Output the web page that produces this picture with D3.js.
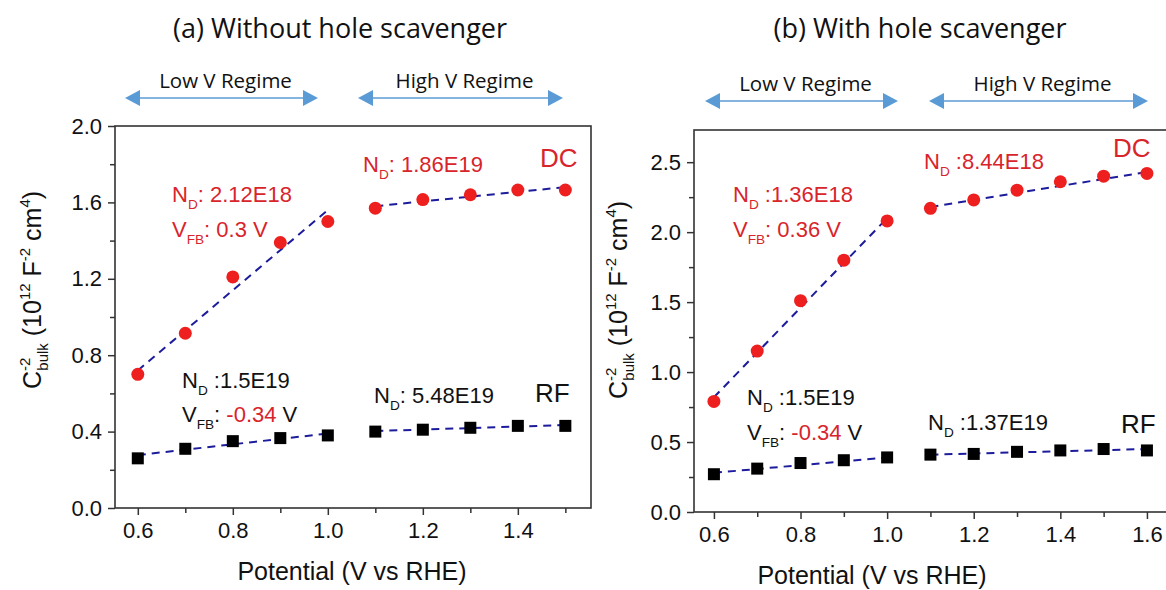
<!DOCTYPE html>
<html><head><meta charset="utf-8">
<script src="https://cdn.jsdelivr.net/npm/d3@7"></script>
<style>
html,body{margin:0;padding:0;background:#fff;}
svg{display:block;}
</style>
</head><body>
<svg id="chart" width="1166" height="590"></svg>
<script>
// ---------- DATA ----------
const titles = ["(a) Without hole scavenger", "(b) With hole scavenger"];
const regimeLabels = ["Low V Regime", "High V Regime"];
const xLabel = "Potential (V vs RHE)";

// Panel (a)
const potentialA = [0.6, 0.7, 0.8, 0.9, 1.0, 1.1, 1.2, 1.3, 1.4, 1.5];
const dcA = [0.70, 0.915, 1.21, 1.39, 1.50, 1.57, 1.615, 1.64, 1.665, 1.665];
const rfA = [0.26, 0.31, 0.35, 0.366, 0.38, 0.40, 0.41, 0.42, 0.43, 0.43];
const fitLowXA = [0.6, 1.0];
const fitHighXA = [1.1, 1.5];
const dcFitLowA = [0.72, 1.56];
const dcFitHighA = [1.58, 1.68];
const rfFitLowA = [0.277, 0.39];
const rfFitHighA = [0.403, 0.434];
const xTicksA = [0.6, 0.8, 1.0, 1.2, 1.4];
const xMinorA = [0.7, 0.9, 1.1, 1.3, 1.5];
const yTicksA = [0.0, 0.4, 0.8, 1.2, 1.6, 2.0];
const yMinorA = [0.2, 0.6, 1.0, 1.4, 1.8];

// Panel (b)
const potentialB = [0.6, 0.7, 0.8, 0.9, 1.0, 1.1, 1.2, 1.3, 1.4, 1.5, 1.6];
const dcB = [0.79, 1.15, 1.51, 1.80, 2.08, 2.17, 2.23, 2.30, 2.36, 2.40, 2.42];
const rfB = [0.27, 0.31, 0.35, 0.37, 0.39, 0.41, 0.415, 0.43, 0.44, 0.45, 0.44];
const fitLowXB = [0.6, 1.0];
const fitHighXB = [1.1, 1.6];
const dcFitLowB = [0.82, 2.10];
const dcFitHighB = [2.18, 2.43];
const rfFitLowB = [0.28, 0.39];
const rfFitHighB = [0.41, 0.45];
const xTicksB = [0.6, 0.8, 1.0, 1.2, 1.4, 1.6];
const xMinorB = [0.7, 0.9, 1.1, 1.3, 1.5];
const yTicksB = [0.0, 0.5, 1.0, 1.5, 2.0, 2.5];
const yMinorB = [0.25, 0.75, 1.25, 1.75, 2.25];

// ---------- STYLE ----------
const RED = "#ee1f1f";
const RED_TXT = "#d8242b";
const FIT = "#1c1c9c";
const ARROW = "#5b9bd5";
const AXC = "#333";
const NUMFONT = "Liberation Sans, Arial, sans-serif";
const TITLEFONT = "'Open Sans', Lato, sans-serif";

const svg = d3.select("#chart");

function drawArrow(x1, x2, y) {
  const g = svg.append("g");
  const hl = 15, hh = 8;
  g.append("line").attr("x1", x1 + hl - 2).attr("x2", x2 - hl + 2)
    .attr("y1", y).attr("y2", y).attr("stroke", ARROW).attr("stroke-width", 1.6);
  g.append("path").attr("d", `M${x1},${y} L${x1 + hl},${y - hh} L${x1 + hl},${y + hh} Z`).attr("fill", ARROW);
  g.append("path").attr("d", `M${x2},${y} L${x2 - hl},${y - hh} L${x2 - hl},${y + hh} Z`).attr("fill", ARROW);
}

function subText(x, y, parts, size, color) {
  const t = svg.append("text").attr("x", x).attr("y", y)
    .attr("font-family", NUMFONT).attr("font-size", size).attr("fill", color);
  parts.forEach(p => {
    const ts = t.append("tspan").text(p.t);
    if (p.sub) ts.attr("font-size", size * 0.62).attr("dy", size * 0.3);
    if (p.back) ts.attr("dy", -size * 0.3);
    if (p.color) ts.attr("fill", p.color);
  });
  return t;
}

function panel(cfg) {
  const x = d3.scaleLinear().domain(cfg.xDomain).range(cfg.xRange);
  const y = d3.scaleLinear().domain(cfg.yDomain).range(cfg.yRange);
  const g = svg.append("g");

  g.append("rect").attr("x", cfg.xRange[0]).attr("y", cfg.yRange[1])
    .attr("width", cfg.xRange[1] - cfg.xRange[0]).attr("height", cfg.yRange[0] - cfg.yRange[1])
    .attr("fill", "none").attr("stroke", AXC).attr("stroke-width", 1.6);

  const xAxis = d3.axisBottom(x).tickValues(cfg.xTicks).tickFormat(d3.format(".1f")).tickSize(7).tickPadding(7);
  const xMin = d3.axisBottom(x).tickValues(cfg.xMinor).tickFormat("").tickSize(5);
  const yAxis = d3.axisLeft(y).tickValues(cfg.yTicks).tickFormat(d3.format(".1f")).tickSize(7).tickPadding(6);
  const yMin = d3.axisLeft(y).tickValues(cfg.yMinor).tickFormat("").tickSize(5);
  [[xAxis, "x"], [xMin, "x"], [yAxis, "y"], [yMin, "y"]].forEach(([ax, k]) => {
    const a = g.append("g").attr("transform", k === "x" ? `translate(0,${cfg.yRange[0]})` : `translate(${cfg.xRange[0]},0)`).call(ax);
    a.select(".domain").remove();
    a.selectAll("line").attr("stroke", AXC).attr("stroke-width", 1.5);
    a.selectAll("text").attr("font-family", NUMFONT).attr("font-size", 22).attr("fill", "#111");
  });

  const fits = [[cfg.fitLowX, cfg.dcFitLow], [cfg.fitHighX, cfg.dcFitHigh], [cfg.fitLowX, cfg.rfFitLow], [cfg.fitHighX, cfg.rfFitHigh]];
  const line = d3.line().x(d => x(d[0])).y(d => y(d[1]));
  fits.forEach(([xs, ys]) => {
    g.append("path").attr("d", line(xs.map((v, i) => [v, ys[i]])))
      .attr("fill", "none").attr("stroke", FIT).attr("stroke-width", 2).attr("stroke-dasharray", "8,6");
  });

  g.selectAll(".dc").data(cfg.pot.map((p, i) => [p, cfg.dc[i]])).enter().append("circle")
    .attr("cx", d => x(d[0])).attr("cy", d => y(d[1])).attr("r", 6.5).attr("fill", RED);
  g.selectAll(".rf").data(cfg.pot.map((p, i) => [p, cfg.rf[i]])).enter().append("rect")
    .attr("x", d => x(d[0]) - 6).attr("y", d => y(d[1]) - 6).attr("width", 12).attr("height", 12).attr("fill", "#000");

  const cy = cfg.yLabelPos;
  const yl = svg.append("text").attr("transform", `translate(${cy[0]},${cy[1]}) rotate(-90)`)
    .attr("text-anchor", "middle").attr("y", 8)
    .attr("font-family", NUMFONT).attr("font-size", 25).attr("fill", "#111");
  yl.append("tspan").text("C");
  yl.append("tspan").text("-2").attr("font-size", 15).attr("dy", -11);
  yl.append("tspan").text("bulk").attr("font-size", 15).attr("dx", -13).attr("dy", 18);
  yl.append("tspan").text(" (10").attr("dy", -7);
  yl.append("tspan").text("12").attr("font-size", 15).attr("dy", -11);
  yl.append("tspan").text(" F").attr("dy", 11);
  yl.append("tspan").text("-2").attr("font-size", 15).attr("dy", -11);
  yl.append("tspan").text(" cm").attr("dy", 11);
  yl.append("tspan").text("4").attr("font-size", 15).attr("dy", -11);
  yl.append("tspan").text(")").attr("dy", 11);

  svg.append("text").attr("x", cfg.xLabelPos[0]).attr("y", cfg.xLabelPos[1])
    .attr("text-anchor", "middle").attr("font-family", NUMFONT).attr("font-size", 25).attr("fill", "#111").text(xLabel);

  svg.append("text").attr("x", cfg.titlePos[0]).attr("y", cfg.titlePos[1])
    .attr("text-anchor", "middle").attr("font-family", TITLEFONT).attr("font-size", 27).attr("fill", "#111").text(cfg.title);

  cfg.arrows.forEach((a, i) => {
    drawArrow(a[0], a[1], a[2]);
    svg.append("text").attr("x", (a[0] + a[1]) / 2 + 4).attr("y", a[2] - 10)
      .attr("text-anchor", "middle").attr("font-family", TITLEFONT).attr("font-size", 20.5).attr("fill", "#111").text(regimeLabels[i]);
  });
}

panel({
  pot: potentialA, dc: dcA, rf: rfA,
  fitLowX: fitLowXA, fitHighX: fitHighXA,
  dcFitLow: dcFitLowA, dcFitHigh: dcFitHighA, rfFitLow: rfFitLowA, rfFitHigh: rfFitHighA,
  xDomain: [0.552, 1.554], xRange: [115, 591],
  yDomain: [0, 2.0], yRange: [508, 126],
  xTicks: xTicksA, xMinor: xMinorA, yTicks: yTicksA, yMinor: yMinorA,
  yLabelPos: [33, 290], xLabelPos: [352, 580], titlePos: [340, 38], title: titles[0],
  arrows: [[125, 318, 98], [358, 563, 98]]
});

panel({
  pot: potentialB, dc: dcB, rf: rfB,
  fitLowX: fitLowXB, fitHighX: fitHighXB,
  dcFitLow: dcFitLowB, dcFitHigh: dcFitHighB, rfFitLow: rfFitLowB, rfFitHigh: rfFitHighB,
  xDomain: [0.554, 1.6625], xRange: [694, 1174],
  yDomain: [0, 2.73], yRange: [512, 130],
  xTicks: xTicksB, xMinor: xMinorB, yTicks: yTicksB, yMinor: yMinorB,
  yLabelPos: [619, 300], xLabelPos: [872, 584], titlePos: [920, 38], title: titles[1],
  arrows: [[705, 898, 101], [929, 1148, 101]]
});

// ---------- ANNOTATIONS ----------
const F = 22;
subText(172, 202, [{t: "N"}, {t: "D", sub: true}, {t: ": 2.12E18", back: true}], F, RED_TXT);
subText(172, 237, [{t: "V"}, {t: "FB", sub: true}, {t: ": 0.3 V", back: true}], F, RED_TXT);
subText(363, 172, [{t: "N"}, {t: "D", sub: true}, {t: ": 1.86E19", back: true}], F, RED_TXT);
subText(540, 167, [{t: "DC"}], 26, RED_TXT);
subText(182, 388, [{t: "N"}, {t: "D", sub: true}, {t: " :1.5E19", back: true}], F, "#111");
subText(182, 422, [{t: "V"}, {t: "FB", sub: true}, {t: ": ", back: true}, {t: "-0.34", color: RED_TXT}, {t: " V"}], F, "#111");
subText(374, 403, [{t: "N"}, {t: "D", sub: true}, {t: ": 5.48E19", back: true}], F, "#111");
subText(535, 402, [{t: "RF"}], 26, "#111");
subText(733, 202, [{t: "N"}, {t: "D", sub: true}, {t: " :1.36E18", back: true}], F, RED_TXT);
subText(733, 237, [{t: "V"}, {t: "FB", sub: true}, {t: ": 0.36 V", back: true}], F, RED_TXT);
subText(924, 169, [{t: "N"}, {t: "D", sub: true}, {t: " :8.44E18", back: true}], F, RED_TXT);
subText(1113, 157, [{t: "DC"}], 26, RED_TXT);
subText(747, 405, [{t: "N"}, {t: "D", sub: true}, {t: " :1.5E19", back: true}], F, "#111");
subText(747, 440, [{t: "V"}, {t: "FB", sub: true}, {t: ": ", back: true}, {t: "-0.34", color: RED_TXT}, {t: " V"}], F, "#111");
subText(928, 430, [{t: "N"}, {t: "D", sub: true}, {t: " :1.37E19", back: true}], F, "#111");
subText(1121, 433, [{t: "RF"}], 26, "#111");
</script>
</body></html>
